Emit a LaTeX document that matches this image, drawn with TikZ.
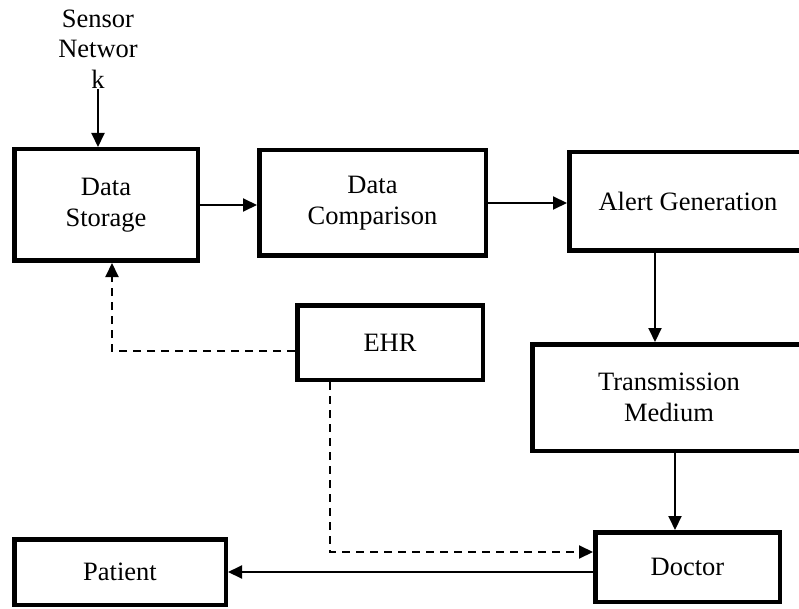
\documentclass[tikz,border=0pt]{standalone}
\usepackage{fontspec}
\setmainfont{Liberation Serif}
\usetikzlibrary{arrows.meta,positioning}

\begin{document}
\begin{tikzpicture}[x=1pt,y=-1pt]
\tikzset{
  blockbox/.style={draw,line width=4.5pt,inner sep=2pt,align=center,font=\fontsize{26.5}{30.5}\selectfont},
  flowline/.style={-{Triangle[length=14pt,width=13pt]},line width=2pt},
  ehrline/.style={flowline,dashed,dash pattern=on 8pt off 6pt}
}
\useasboundingbox (0,0) rectangle (799,609);
\clip (0,0) rectangle (799,609);
\node[align=center,font=\fontsize{26.5}{30.5}\selectfont,inner sep=1pt] (n_sensor) at (98,49) {Sensor\\Networ\\k};
\node[blockbox,minimum width=183.5pt,minimum height=111.5pt] (n_storage) at (106,205) {Data\\Storage};
\node[blockbox,minimum width=226.5pt,minimum height=105.5pt] (n_comparison) at (372.5,203) {Data\\Comparison};
\node[blockbox,minimum width=237.5pt,minimum height=98.5pt] (n_alert) at (688,201.5) {Alert Generation};
\node[blockbox,minimum width=273.5pt,minimum height=106.5pt] (n_trans) at (669,397.5) {Transmission\\Medium};
\node[blockbox,minimum width=185.5pt,minimum height=74.5pt] (n_ehr) at (390,342.5) {EHR};
\node[blockbox,minimum width=184.5pt,minimum height=69.5pt] (n_doctor) at (687.5,567) {Doctor};
\node[blockbox,minimum width=211.5pt,minimum height=65.5pt] (n_patient) at (120,572) {Patient};
\draw[flowline] (n_sensor.south) -- (n_sensor.south |- n_storage.north);
\draw[flowline] (n_storage.east) -- (n_storage.east -| n_comparison.west);
\draw[flowline] (n_comparison.east) -- (n_comparison.east -| n_alert.west);
\draw[flowline] ([xshift=-33pt]n_alert.south) -- ([xshift=-33pt]n_alert.south |- n_trans.north);
\draw[flowline] ([xshift=6pt]n_trans.south) -- ([xshift=6pt]n_trans.south |- n_doctor.north);
\draw[ehrline] ([yshift=-8.5pt]n_ehr.west) -| ([xshift=6pt]n_storage.south);
\draw[ehrline] ([xshift=-60pt]n_ehr.south) |- ([yshift=15pt]n_doctor.west);
\draw[flowline] ([yshift=-5pt]n_doctor.west) -- ([yshift=-5pt]n_doctor.west -| n_patient.east);
\end{tikzpicture}
\end{document}
